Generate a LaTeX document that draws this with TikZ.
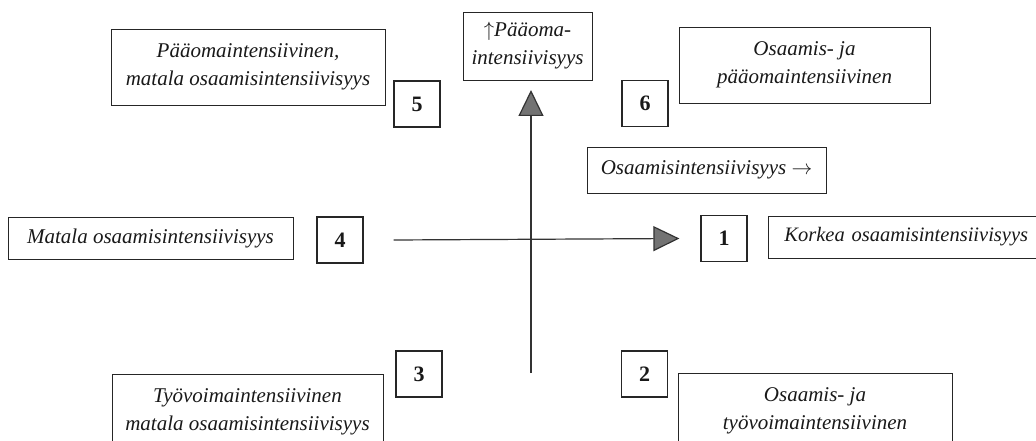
\documentclass[tikz,border=0pt]{standalone}
\usepackage{fontspec}
\setmainfont{Liberation Serif}
\usetikzlibrary{arrows.meta}

\begin{document}
\begin{tikzpicture}[x=1pt,y=-1pt]
        \tikzstyle{every node}=[draw=black!85,line width=0.8pt,inner sep=2pt,align=center,text=black!90]
        \tikzstyle{label box}=[font=\fontsize{21}{28}\selectfont\itshape]
        \tikzstyle{num box}=[minimum width=46pt,minimum height=46pt,line width=1.2pt,font=\fontsize{22}{24}\selectfont\bfseries]
        \tikzstyle{axis}=[draw=black!80,line width=1.2pt,-{Triangle[length=26pt,width=25pt,fill=black!55]}]
        \useasboundingbox (0,0) rectangle (1036,441);
        % quadrant texts
        \node[label box,minimum width=274pt,minimum height=76pt] (q5) at (248,67) {Pääomaintensiivinen,\\matala osaamisintensiivisyys};
        \node[label box,minimum width=251pt,minimum height=76pt] (q6) at (804.5,65) {Osaamis- ja\\pääomaintensiivinen};
        \node[label box,minimum width=285pt,minimum height=42pt] (q4) at (150.5,238) {Matala osaamisintensiivisyys};
        \node[label box,font=\fontsize{20.5}{28}\selectfont\itshape,minimum width=300pt,minimum height=42pt,anchor=west,text width=280pt,align=left] (q1) at (768,237) {\hspace*{6pt}Korkea osaamisintensiivisyys};
        \node[label box,minimum width=271pt,minimum height=76pt] (q3) at (247.5,412) {Työvoimaintensiivinen\\matala osaamisintensiivisyys};
        \node[label box,minimum width=274pt,minimum height=76pt] (q2) at (815,411) {Osaamis- ja\\työvoimaintensiivinen};
        % axis titles
        \node[label box,minimum width=129pt,minimum height=68pt] (ytitle) at (527.5,46) {$\uparrow$Pääoma-\\intensiivisyys};
        \node[label box,minimum width=239pt,minimum height=46pt] (xtitle) at (706.5,170) {Osaamisintensiivisyys $\rightarrow$};
        % numbers
        \node[num box] (n1) at (724,238.5) {1};
        \node[num box] (n2) at (644.5,374) {2};
        \node[num box] (n3) at (419,374) {3};
        \node[num box] (n4) at (340,240) {4};
        \node[num box] (n5) at (417,104) {5};
        \node[num box] (n6) at (645,103.5) {6};
        % axes
        \coordinate (ybot) at (531,373);
        \coordinate (ytop) at (531,90);
        \draw[axis] (ybot) -- (ytop);
        \draw[axis] ([xshift=30pt]n4.east) -- ([xshift=-21pt]n1.west);
\end{tikzpicture}
\end{document}
